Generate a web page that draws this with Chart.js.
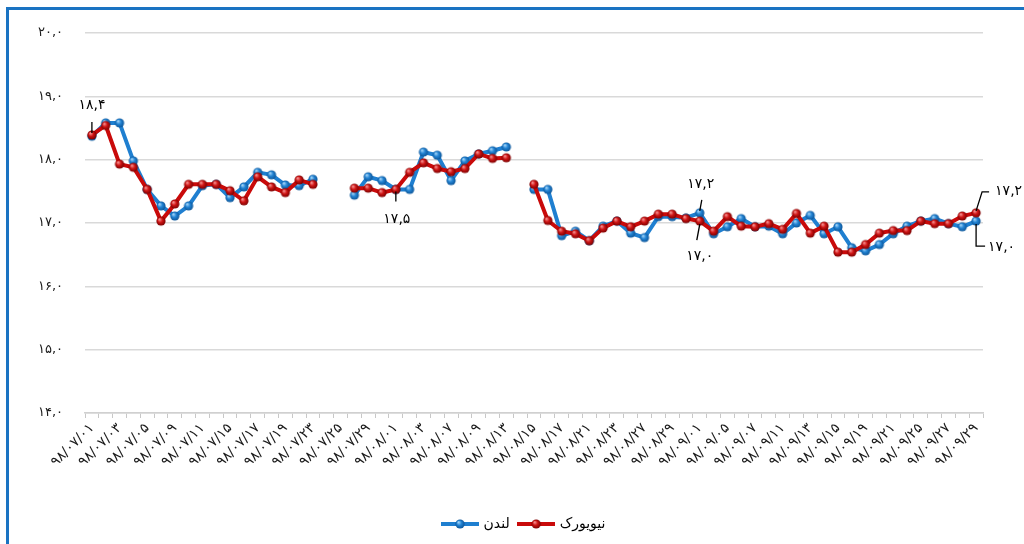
<!DOCTYPE html>
<html>
<head>
<meta charset="utf-8">
<script src="https://cdn.jsdelivr.net/npm/chart.js@4"></script>
<style>
  html, body { margin: 0; padding: 0; background: #fff; overflow: hidden; }
  #wrap { position: relative; width: 1024px; height: 544px; overflow: hidden; }
  #frame { position: absolute; left: 6px; top: 7px; width: 1200px; height: 800px; border: 3px solid #1a73c2; box-sizing: border-box; }
  canvas { position: absolute; left: 0; top: 0; }
</style>
</head>
<body>
<div id="wrap">
  <div id="frame"></div>
  <canvas id="c" width="1024" height="544"></canvas>
</div>
<script>
// ---- Data ----
const categories = [
  "۹۸/۰۷/۰۱","۹۸/۰۷/۰۲","۹۸/۰۷/۰۳","۹۸/۰۷/۰۴","۹۸/۰۷/۰۵","۹۸/۰۷/۰۸","۹۸/۰۷/۰۹","۹۸/۰۷/۱۰","۹۸/۰۷/۱۱","۹۸/۰۷/۱۲",
  "۹۸/۰۷/۱۵","۹۸/۰۷/۱۶","۹۸/۰۷/۱۷","۹۸/۰۷/۱۸","۹۸/۰۷/۱۹","۹۸/۰۷/۲۲","۹۸/۰۷/۲۳","۹۸/۰۷/۲۴","۹۸/۰۷/۲۵","۹۸/۰۷/۲۶",
  "۹۸/۰۷/۲۹","۹۸/۰۷/۳۰","۹۸/۰۸/۰۱","۹۸/۰۸/۰۲","۹۸/۰۸/۰۳","۹۸/۰۸/۰۶","۹۸/۰۸/۰۷","۹۸/۰۸/۰۸","۹۸/۰۸/۰۹","۹۸/۰۸/۱۰",
  "۹۸/۰۸/۱۳","۹۸/۰۸/۱۴","۹۸/۰۸/۱۵","۹۸/۰۸/۱۶","۹۸/۰۸/۱۷","۹۸/۰۸/۲۰","۹۸/۰۸/۲۱","۹۸/۰۸/۲۲","۹۸/۰۸/۲۳","۹۸/۰۸/۲۴",
  "۹۸/۰۸/۲۷","۹۸/۰۸/۲۸","۹۸/۰۸/۲۹","۹۸/۰۸/۳۰","۹۸/۰۹/۰۱","۹۸/۰۹/۰۴","۹۸/۰۹/۰۵","۹۸/۰۹/۰۶","۹۸/۰۹/۰۷","۹۸/۰۹/۰۸",
  "۹۸/۰۹/۱۱","۹۸/۰۹/۱۲","۹۸/۰۹/۱۳","۹۸/۰۹/۱۴","۹۸/۰۹/۱۵","۹۸/۰۹/۱۸","۹۸/۰۹/۱۹","۹۸/۰۹/۲۰","۹۸/۰۹/۲۱","۹۸/۰۹/۲۲",
  "۹۸/۰۹/۲۵","۹۸/۰۹/۲۶","۹۸/۰۹/۲۷","۹۸/۰۹/۲۸","۹۸/۰۹/۲۹"
];

const london = [
  18.37,18.58,18.58,17.98,17.53,17.27,17.11,17.27,17.59,17.61,
  17.40,17.57,17.80,17.76,17.60,17.59,17.69,null,null,17.44,
  17.73,17.67,17.53,17.53,18.12,18.07,17.67,17.98,18.09,18.14,
  18.20,null,17.53,17.53,16.80,16.87,16.72,16.95,17.03,16.84,
  16.77,17.10,17.10,17.08,17.16,16.83,16.94,17.07,16.94,16.95,
  16.83,17.00,17.12,16.83,16.94,16.61,16.56,16.66,16.83,16.95,
  17.03,17.07,16.99,16.94,17.03
];

const newYork = [
  18.39,18.54,17.93,17.88,17.53,17.03,17.30,17.61,17.61,17.61,
  17.51,17.35,17.73,17.57,17.48,17.68,17.61,null,null,17.55,
  17.55,17.48,17.53,17.80,17.95,17.86,17.81,17.86,18.09,18.02,
  18.03,null,17.61,17.04,16.87,16.83,16.72,16.92,17.03,16.94,
  17.03,17.14,17.14,17.07,17.03,16.87,17.10,16.95,16.94,16.99,
  16.90,17.15,16.84,16.95,16.54,16.54,16.66,16.84,16.88,16.88,
  17.03,16.99,16.99,17.11,17.16
];

const seriesNames = ["لندن", "نیویورک"];
const yTicks = [14, 15, 16, 17, 18, 19, 20];

// which points carry a value label: [seriesIndex, categoryIndex]
const labelledPoints = [[1, 0], [1, 22], [0, 44], [1, 44], [1, 64], [0, 64]];

// ---- helpers ----
const FONT = '"DejaVu Sans", "Noto Sans", sans-serif';
const faDigits = '۰۱۲۳۴۵۶۷۸۹';
function toFa(v, dec) {
  return v.toFixed(dec).replace(/[0-9]/g, d => faDigits[+d]).replace('.', ',');
}
function ball(light, mid, dark, r) {
  const s = Math.ceil(r * 2 + 2);
  const cv = document.createElement('canvas');
  cv.width = s; cv.height = s;
  const ctx = cv.getContext('2d');
  const g = ctx.createRadialGradient(s/2 - r*0.35, s/2 - r*0.4, r*0.1, s/2, s/2, r);
  g.addColorStop(0, light); g.addColorStop(0.45, mid); g.addColorStop(1, dark);
  ctx.fillStyle = g;
  ctx.beginPath(); ctx.arc(s/2, s/2, r, 0, Math.PI*2); ctx.fill();
  return cv;
}
function legendMark(color, b) {
  const cv = document.createElement('canvas');
  cv.width = 38; cv.height = 12;
  const ctx = cv.getContext('2d');
  ctx.strokeStyle = color; ctx.lineWidth = 4;
  ctx.beginPath(); ctx.moveTo(0, 6); ctx.lineTo(38, 6); ctx.stroke();
  ctx.drawImage(b, 19 - b.width/2, 6 - b.height/2);
  return cv;
}

const BLUE = '#1f7fd0', RED = '#c90a0a';
const blueBall = ball('#9fd2f7', '#2384d4', '#0c5598', 4.6);
const redBall = ball('#f59090', '#d01515', '#7a0000', 4.6);
const marks = [legendMark(BLUE, blueBall), legendMark(RED, redBall)];

// label placement (styling only): leader path relative to point, text anchor relative to point
const labelStyle = {
  '1-0':  { path: [[0,-2],[0,-13]], tx: 0, ty: -30, align: 'center' },
  '1-22': { path: [[0,2],[0,12]], tx: 1, ty: 30, align: 'center' },
  '0-44': { path: [[0,-2],[2,-13]], tx: 1, ty: -29, align: 'center' },
  '1-44': { path: [[0,3],[-3,19]], tx: 0, ty: 35, align: 'center' },
  '1-64': { path: [[0,-2],[6,-21],[13,-21]], tx: 19, ty: -22, align: 'left' },
  '0-64': { path: [[0,3],[0,25],[9,25]], tx: 12, ty: 26, align: 'left' }
};

const leaderLabels = {
  id: 'leaderLabels',
  afterDatasetsDraw(chart) {
    const ctx = chart.ctx;
    ctx.save();
    labelledPoints.forEach(([ds, idx]) => {
      const el = chart.getDatasetMeta(ds).data[idx];
      const v = chart.data.datasets[ds].data[idx];
      const st = labelStyle[ds + '-' + idx];
      if (!el || v == null || !st) return;
      const px = el.x, py = el.y;
      ctx.strokeStyle = '#000'; ctx.lineWidth = 1.3;
      ctx.beginPath();
      st.path.forEach((p, i) => {
        if (i === 0) ctx.moveTo(px + p[0], py + p[1]); else ctx.lineTo(px + p[0], py + p[1]);
      });
      ctx.stroke();
      ctx.fillStyle = '#000';
      ctx.font = '14px ' + FONT;
      ctx.textAlign = st.align; ctx.textBaseline = 'middle';
      ctx.fillText(toFa(v, 1), px + st.tx, py + st.ty);
    });
    ctx.restore();
  }
};

// shift legend horizontally so it is centred under the plot like the original
const legendShift = {
  id: 'legendShift',
  afterLayout(chart) {
    if (chart.legend) { chart.legend.left += 33; chart.legend.right += 33; }
  }
};

new Chart(document.getElementById('c'), {
  type: 'line',
  data: {
    labels: categories,
    datasets: [
      { label: seriesNames[0], data: london, borderColor: BLUE, backgroundColor: BLUE,
        borderWidth: 4, pointStyle: blueBall, pointRadius: 4.6, order: 2, tension: 0, spanGaps: false },
      { label: seriesNames[1], data: newYork, borderColor: RED, backgroundColor: RED,
        borderWidth: 4, pointStyle: redBall, pointRadius: 4.6, order: 1, tension: 0, spanGaps: false }
    ]
  },
  options: {
    responsive: false,
    animation: false,
    devicePixelRatio: 1,
    layout: { padding: { top: 33, left: 0, right: 41, bottom: 3 } },
    plugins: {
      tooltip: { enabled: false },
      legend: {
        position: 'bottom',
        labels: {
          usePointStyle: true,
          pointStyleWidth: 33,
          padding: 10,
          font: { family: FONT, size: 14 },
          color: '#000',
          generateLabels: (chart) => chart.data.datasets.map((d, i) => ({
            text: d.label, pointStyle: marks[i], fillStyle: d.borderColor,
            strokeStyle: d.borderColor, lineWidth: 0, hidden: false, datasetIndex: i
          }))
        }
      }
    },
    scales: {
      x: {
        offset: true,
        grid: { offset: true, drawOnChartArea: false, drawTicks: true, tickLength: 5, color: '#c8c8c8', lineWidth: 1 },
        border: { display: true, color: '#d0d0d0', width: 1.5 },
        ticks: {
          autoSkip: false, minRotation: 45, maxRotation: 45, padding: 2,
          font: { family: FONT, size: 14 }, color: '#1a1a1a',
          callback: function(val, i) { return i % 2 === 0 ? categories[i] : ''; }
        },
        afterFit: (s) => { s.height = 94; }
      },
      y: {
        min: 14, max: 20,
        afterBuildTicks: (s) => { s.ticks = yTicks.map(v => ({ value: v })); },
        grid: { drawTicks: false, color: '#d9d9d9', lineWidth: 1.5 },
        border: { display: false },
        ticks: { padding: 22, font: { family: FONT, size: 13 }, color: '#1a1a1a',
          callback: (v) => toFa(v, 1) },
        afterFit: (s) => { s.width = 85; }
      }
    }
  },
  plugins: [leaderLabels, legendShift]
});
</script>
</body>
</html>
